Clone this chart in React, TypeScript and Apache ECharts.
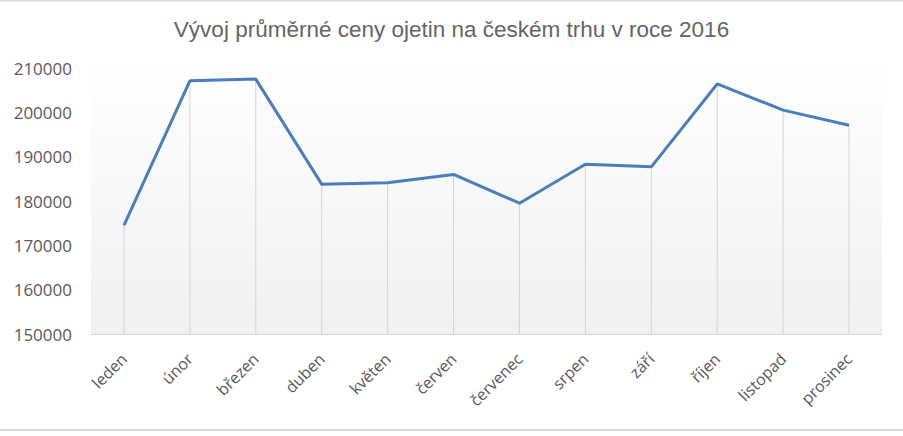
import React, { useEffect, useRef } from "react";
import * as echarts from "echarts";

const months = ["leden", "únor", "březen", "duben", "květen", "červen", "červenec", "srpen", "září", "říjen", "listopad", "prosinec"];
const prices = [174500, 207100, 207500, 183800, 184100, 186000, 179500, 188300, 187700, 206400, 200500, 197100];
const yMin = 150000;
const yMax = 210000;
const yStep = 10000;

export default function App() {
  const ref = useRef<HTMLDivElement>(null);
  useEffect(() => {
    if (!ref.current) return;
    const chart = echarts.init(ref.current, null, { renderer: "svg" });
    chart.setOption({
      animation: false,
      backgroundColor: "#ffffff",
      title: {
        text: "Vývoj průměrné ceny ojetin na českém trhu v roce 2016",
        left: "center",
        top: 13,
        textStyle: { fontFamily: "Liberation Sans", fontSize: 22.5, fontWeight: "normal", color: "#646464" },
      },
      graphic: [
        { type: "line", shape: { x1: 0, y1: 0.5, x2: 903, y2: 0.5 }, style: { stroke: "#d9d9d9", lineWidth: 2 } },
        { type: "line", shape: { x1: 0, y1: 430, x2: 903, y2: 430 }, style: { stroke: "#d9d9d9", lineWidth: 2 } },
      ],
      grid: {
        left: 91,
        right: 21,
        top: 68,
        bottom: 102,
        show: true,
        borderWidth: 0,
        backgroundColor: new echarts.graphic.LinearGradient(0, 0, 0, 1, [
          { offset: 0, color: "#ffffff" },
          { offset: 1, color: "#f0f0f0" },
        ]),
      },
      xAxis: {
        type: "category",
        data: months,
        boundaryGap: true,
        axisLine: { show: true, lineStyle: { color: "#d9d9d9", width: 1 } },
        axisTick: { show: false },
        splitLine: { show: false },
        axisLabel: {
          rotate: 45,
          interval: 0,
          margin: 22,
          color: "#595959",
          fontFamily: "Open Sans",
          fontSize: 16,
        },
      },
      yAxis: {
        type: "value",
        min: yMin,
        max: yMax,
        interval: yStep,
        axisLine: { show: false },
        axisTick: { show: false },
        splitLine: { show: false },
        axisLabel: {
          color: "#595959",
          fontFamily: "Open Sans",
          fontSize: 17,
          margin: 19,
          formatter: (v: number) => String(v),
        },
      },
      series: [
        {
          type: "bar",
          data: prices,
          barWidth: 1,
          silent: true,
          itemStyle: { color: "#d4d4d4" },
          z: 1,
        },
        {
          type: "line",
          data: prices,
          showSymbol: false,
          symbol: "none",
          lineStyle: { color: "#4a7ebb", width: 3 },
          z: 3,
        },
      ],
    });
    return () => chart.dispose();
  }, []);
  return <div ref={ref} style={{ position: "fixed", left: 0, top: 0, width: 903, height: 436 }} />;
}
